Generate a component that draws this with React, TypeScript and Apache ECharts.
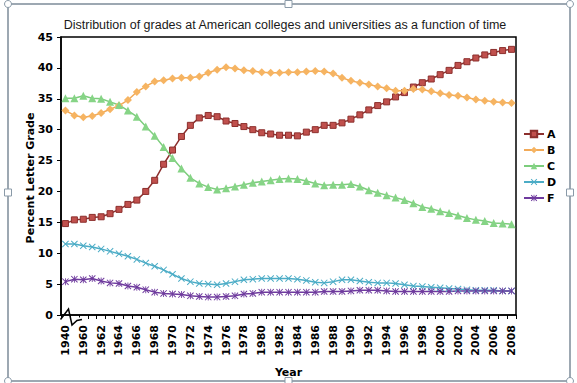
import React, { useEffect, useRef } from "react";
import * as echarts from "echarts";

const years: string[] = ["1940", "1950"];
for (let y = 1960; y <= 2008; y++) years.push(String(y));

const gradeA = [14.8, 15.4, 15.5, 15.8, 15.9, 16.4, 17.1, 17.9, 18.6, 20.0, 21.8, 24.4, 26.7, 28.9, 30.7, 31.9, 32.3, 32.1, 31.4, 31.0, 30.5, 30.0, 29.5, 29.3, 29.1, 29.1, 29.0, 29.6, 30.0, 30.7, 30.7, 31.1, 31.7, 32.4, 33.2, 33.9, 34.5, 35.3, 36.0, 36.9, 37.6, 38.2, 38.9, 39.6, 40.4, 41.0, 41.6, 42.1, 42.5, 42.8, 43.0];
const gradeB = [33.1, 32.3, 32.0, 32.2, 32.7, 33.3, 33.9, 34.8, 36.1, 37.0, 37.8, 38.0, 38.3, 38.4, 38.4, 38.6, 39.2, 39.7, 40.1, 39.9, 39.6, 39.5, 39.3, 39.2, 39.2, 39.3, 39.3, 39.4, 39.5, 39.4, 39.1, 38.4, 37.9, 37.6, 37.3, 37.0, 36.7, 36.3, 36.3, 36.6, 36.5, 36.2, 35.9, 35.6, 35.5, 35.2, 34.9, 34.7, 34.5, 34.4, 34.3];
const gradeC = [35.1, 35.1, 35.5, 35.1, 35.0, 34.5, 34.0, 33.1, 32.1, 30.5, 29.0, 27.2, 25.4, 23.7, 22.2, 21.3, 20.7, 20.3, 20.5, 20.8, 21.1, 21.4, 21.6, 21.8, 22.0, 22.1, 22.0, 21.7, 21.3, 21.0, 21.1, 21.1, 21.2, 20.8, 20.2, 19.8, 19.4, 19.0, 18.6, 18.1, 17.5, 17.2, 16.8, 16.5, 16.1, 15.7, 15.4, 15.2, 14.9, 14.8, 14.7];
const gradeD = [11.5, 11.5, 11.2, 11.0, 10.7, 10.3, 9.9, 9.5, 9.0, 8.4, 7.9, 7.3, 6.6, 5.9, 5.4, 5.1, 5.0, 4.9, 5.1, 5.4, 5.7, 5.8, 5.9, 5.9, 5.9, 5.9, 5.8, 5.6, 5.3, 5.2, 5.4, 5.7, 5.7, 5.5, 5.3, 5.2, 5.2, 5.1, 4.9, 4.7, 4.6, 4.5, 4.4, 4.3, 4.2, 4.1, 4.0, 4.0, 4.0, 3.9, 3.9];
const gradeF = [5.4, 5.8, 5.7, 5.9, 5.5, 5.2, 5.1, 4.7, 4.5, 4.1, 3.7, 3.5, 3.4, 3.3, 3.1, 3.0, 2.9, 2.9, 3.0, 3.1, 3.4, 3.5, 3.7, 3.7, 3.7, 3.7, 3.7, 3.7, 3.7, 3.8, 3.8, 3.8, 3.9, 4.0, 4.0, 4.0, 3.9, 3.8, 3.8, 3.8, 3.8, 3.8, 3.8, 3.8, 3.9, 3.9, 3.9, 3.9, 3.9, 3.9, 3.9];

const X_PATH = "path://M0,1 L1,0 L10,9 L9,10 Z M9,0 L10,1 L1,10 L0,9 Z";
const STAR_PATH = "path://M0,1 L1,0 L10,9 L9,10 Z M9,0 L10,1 L1,10 L0,9 Z M4.4,0 L5.6,0 L5.6,10 L4.4,10 Z";

const FONT = "DejaVu Sans";

export default function App() {
  const ref = useRef<HTMLDivElement>(null);
  useEffect(() => {
    if (!ref.current) return;
    const chart = echarts.init(ref.current, undefined, { renderer: "svg" });
    const mk = (name: string, data: number[], line: string, fill: string, symbol: string, size: number, border?: string) => ({
      name,
      type: "line",
      data,
      symbol,
      symbolSize: size,
      showAllSymbol: true,
      lineStyle: { color: line, width: 1.5 },
      itemStyle: { color: fill, borderColor: border || fill, borderWidth: border ? 1 : 0 },
      emphasis: { disabled: true },
    });
    const handleStyle = { fill: "#fff", stroke: "#8a9aa8", lineWidth: 1 };
    chart.setOption({
      animation: false,
      backgroundColor: "#ffffff",
      title: {
        text: "Distribution of grades at American colleges and universities as a function of time",
        left: 280,
        textAlign: "center",
        top: 13,
        textStyle: { fontFamily: "Liberation Sans", fontSize: 12.5, fontWeight: "normal", color: "#1a1a1a" },
      },
      legend: {
        orient: "vertical",
        left: 518,
        top: 123,
        itemWidth: 20,
        itemHeight: 8,
        itemGap: 4,
        textStyle: { fontFamily: FONT, fontSize: 11, fontWeight: "bold", color: "#000", lineHeight: 12, padding: [0, 0, 0, -2] },
        data: ["A", "B", "C", "D", "F"],
      },
      grid: { left: 61, right: 61, top: 37, bottom: 64, show: true, borderColor: "#000", borderWidth: 1.5, backgroundColor: "transparent" },
      xAxis: {
        type: "category",
        data: years,
        boundaryGap: true,
        name: "Year",
        nameLocation: "middle",
        nameGap: 52,
        nameTextStyle: { fontFamily: FONT, fontSize: 11, fontWeight: "bold", color: "#000" },
        axisLine: { lineStyle: { color: "#000", width: 1.5 } },
        axisTick: { show: true, interval: 0, length: 4, lineStyle: { color: "#000" } },
        axisLabel: { interval: 1, rotate: 90, margin: 10, fontFamily: FONT, fontSize: 11, fontWeight: "bold", color: "#000" },
        splitLine: { show: false },
      },
      yAxis: {
        type: "value",
        min: 0,
        max: 45,
        interval: 5,
        axisLine: { show: true, lineStyle: { color: "#000", width: 1.5 } },
        axisTick: { show: true, length: 4, lineStyle: { color: "#000" } },
        axisLabel: { margin: 8, fontFamily: FONT, fontSize: 11, fontWeight: "bold", color: "#000" },
        splitLine: { show: false },
      },
      series: [
        mk("A", gradeA, "#8c2f2d", "#c0504d", "rect", 6, "#8c2f2d"),
        mk("B", gradeB, "#f2aa58", "#f6b462", "diamond", 8),
        mk("C", gradeC, "#7ccd7c", "#86d486", "triangle", 8),
        mk("D", gradeD, "#4bacc6", "#4bacc6", X_PATH, 7),
        mk("F", gradeF, "#6f3b9e", "#6f3b9e", STAR_PATH, 7),
      ],
      graphic: [
        { type: "rect", shape: { x: 8, y: 4, width: 562, height: 377 }, style: { fill: "none", stroke: "#7d8c99", lineWidth: 1.5 }, silent: true },
        { type: "circle", shape: { cx: 8, cy: 4, r: 3.5 }, style: handleStyle },
        { type: "circle", shape: { cx: 570, cy: 4, r: 3.5 }, style: handleStyle },
        { type: "circle", shape: { cx: 8, cy: 381, r: 3.5 }, style: handleStyle },
        { type: "circle", shape: { cx: 570, cy: 381, r: 3.5 }, style: handleStyle },
        { type: "rect", shape: { x: 285, y: 0.5, width: 7, height: 7 }, style: handleStyle },
        { type: "rect", shape: { x: 285, y: 377.5, width: 7, height: 7 }, style: handleStyle },
        { type: "rect", shape: { x: 4.5, y: 189, width: 7, height: 7 }, style: handleStyle },
        { type: "rect", shape: { x: 566.5, y: 189, width: 7, height: 7 }, style: handleStyle },
        {
          type: "text",
          x: 30,
          y: 178,
          rotation: Math.PI / 2,
          style: { text: "Percent Letter Grade", textAlign: "center", textVerticalAlign: "middle", fontFamily: FONT, fontSize: 11, fontWeight: "bold", fill: "#000" },
        },
        { type: "rect", shape: { x: 61.5, y: 317.5, width: 20, height: 5 }, style: { fill: "#fff" }, z: 100 },
        { type: "polyline", shape: { points: [[60.5, 319.5], [68.5, 309], [72, 325], [77, 320.5], [82, 319.5]] }, style: { stroke: "#000", lineWidth: 1.5, fill: "none" }, z: 101 },
      ],
    });
    return () => chart.dispose();
  }, []);
  return <div ref={ref} style={{ width: 577, height: 383, position: "absolute", left: 0, top: 0 }} />;
}
